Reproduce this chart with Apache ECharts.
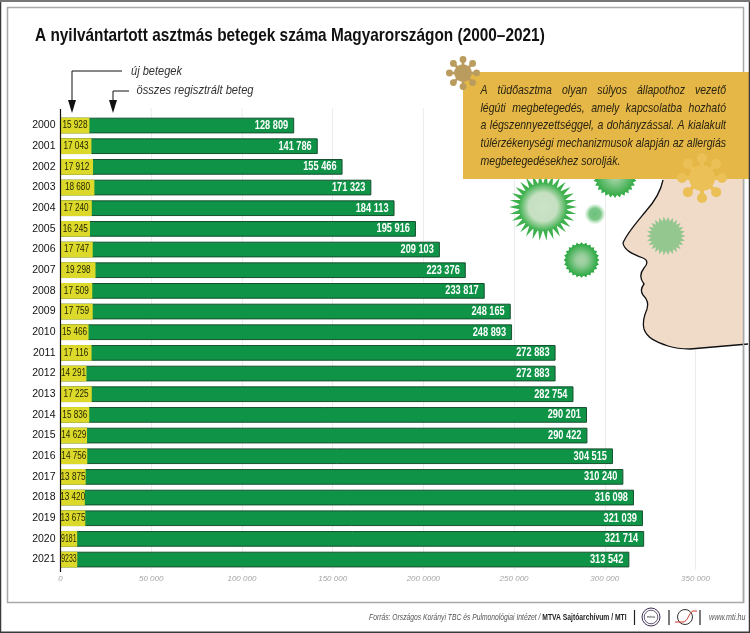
<!DOCTYPE html>
<html>
<head>
<meta charset="utf-8">
<title>Asztmás betegek</title>
<script src="https://cdn.jsdelivr.net/npm/echarts@6/dist/echarts.min.js"></script>
<style>
html,body{margin:0;padding:0;background:#fff;}
#main{width:750px;height:633px;}
</style>
</head>
<body>
<div id="main"></div>
<script>
var years=['2000','2001','2002','2003','2004','2005','2006','2007','2008','2009','2010','2011','2012','2013','2014','2015','2016','2017','2018','2019','2020','2021'];
var newPatients=[15928,17043,17912,18680,17240,16245,17747,19298,17509,17759,15466,17116,14291,17225,15836,14629,14756,13875,13420,13675,9181,9233];
var allPatients=[128809,141786,155466,171323,184113,195916,209103,223376,233817,248165,248893,272883,272883,282754,290201,290422,304515,310240,316098,321039,321714,313542];
var tickLabels=['0','50 000','100 000','150 000','200 0000','250 000','300 000','350 000'];
var calloutLines=['A tüdőasztma olyan súlyos állapothoz vezető','légúti megbetegedés, amely kapcsolatba hozható','a légszennyezettséggel, a dohányzással. A kialakult','túlérzékenységi mechanizmusok alapján az allergiás','megbetegedésekhez sorolják.'];

var sans='"Liberation Sans",Arial,sans-serif';
var green='#0f9347',greenEdge='#17502f',yellow='#dcd92a';

function fmt(v){//9181 -> no space, 15928 -> 15 928
	return v<10000?String(v):String(v).replace(/\B(?=(\d{3})+$)/g,' ');
}
// nincs keskeny betutipus, ezert vizszintesen osszenyomjuk a szoveget
function txt(x,y,s,font,fill,sx,z){
	return {type:'text',z:z||20,x:x,y:y,scaleX:sx||1,style:{text:s,font:font+' '+sans,fill:fill,textVerticalAlign:'middle'}};
}
function line(x1,y1,x2,y2,color,w,z){
	return {type:'line',z:z||20,shape:{x1:x1,y1:y1,x2:x2,y2:y2},style:{stroke:color,lineWidth:w}};
}
function arrow(x,y){//lefele mutato nyil
	return {type:'polygon',z:20,shape:{points:[[x-4,y],[x+4,y],[x,y+13]]},style:{fill:'#111'}};
}
function radial(stops){
	return {type:'radial',x:.5,y:.5,r:.5,colorStops:stops.map(function(s){return {offset:s[0],color:s[1]};})};
}
function spiky(cx,cy,r1,r2,n,fill){//tuskes virus
	var pts=[];
	for(var i=0;i<n*2;i++){
		var a=Math.PI*i/n,r=i%2?r2:r1;
		pts.push([cx+r*Math.cos(a),cy+r*Math.sin(a)]);
	}
	return {type:'polygon',z:10,shape:{points:pts},style:{fill:fill}};
}
function disc(cx,cy,r,fill,z){
	return {type:'circle',z:z||10,shape:{cx:cx,cy:cy,r:r},style:{fill:fill}};
}
function armVirus(cx,cy,r,color,z){//korona virus karokkal
	var list=[disc(cx,cy,r*.52,color,z)];
	for(var i=0;i<8;i++){
		var a=Math.PI*i/4-Math.PI/2;
		list.push(line(cx,cy,cx+r*.8*Math.cos(a),cy+r*.8*Math.sin(a),color,r*.16,z));
		list.push(disc(cx+r*.8*Math.cos(a),cy+r*.8*Math.sin(a),r*.2,color,z));
	}
	return list;
}
function calloutText(){//sorkizart szoveg, szavankent
	var ctx=document.createElement('canvas').getContext('2d'),font='italic 13px '+sans,out=[],sx=.81;
	ctx.font=font;
	calloutLines.forEach(function(l,i){
		var words=l.split(' '),x=480.5,y=90+i*17.9,gap=ctx.measureText(' ').width*sx;
		if(i<calloutLines.length-1){
			var sum=0;
			words.forEach(function(w){sum+=ctx.measureText(w).width*sx;});
			gap=(245.5-sum)/(words.length-1);
		}
		words.forEach(function(w){
			out.push({type:'text',z:32,x:x,y:y,scaleX:sx,style:{text:w,font:font,fill:'#2a2412',textVerticalAlign:'middle'}});
			x+=ctx.measureText(w).width*sx+gap;
		});
	});
	return out;
}

var faceEdge='M663 180 C661 190 655 201 646 211 C637 222 627 233 623 243 C624 250 632 254 643 258 C648 260 648 264 644 268 C640 273 640 279 644 284 C641 288 640 291 643 295 C647 299 649 303 647 309 C644 316 642 322 644 329 C647 338 656 342 668 346 C677 349 682 349 690 349 L748 344';
echarts.graphic.registerShape('faceFill',echarts.graphic.extendPath(faceEdge+' L743 344 L743 175 L663 175 Z'));
echarts.graphic.registerShape('faceEdge',echarts.graphic.extendPath(faceEdge));
echarts.graphic.registerShape('logoSwoosh',echarts.graphic.extendPath('M675 622 L683 622 C688 622 689 612 693 611 L697 611'));

var decor=[];
decor.push({type:'rect',z:-1,shape:{x:7.5,y:7.5,width:736,height:595},style:{fill:'#fff',stroke:'#a9a9a9',lineWidth:1.5}});
decor.push({type:'faceFill',z:9,style:{fill:'#f0dac8',stroke:null}});
decor.push({type:'faceEdge',z:9,style:{fill:null,stroke:'#111',lineWidth:1.3}});
decor.push(spiky(666,236,19.5,15,26,'#93c78f'));
decor.push(disc(595,214,10.5,radial([[0,'#6cc07a'],[.55,'#7cc788'],[1,'rgba(150,215,160,0)']])));
decor.push(spiky(543,207,34,23,30,'#3eb14e'));
decor.push(disc(543,207,24,radial([[0,'#cbe2c8'],[.6,'#c5dfc1'],[1,'#3eb14e']])));
decor.push(spiky(615,176,22,19,28,'#39ad4b'));
decor.push(disc(615,176,19,radial([[0,'#b7dab5'],[1,'#39ad4b']])));
decor.push(spiky(581.5,260,18,15.5,24,'#2faa45'));
decor.push(disc(581.5,260,16,radial([[0,'#a9d4a9'],[.35,'#96cd9a'],[1,'#2faa45']])));
decor.push({type:'rect',z:30,shape:{x:463,y:72,width:287,height:107},style:{fill:'#e5b746'}});
decor=decor.concat(armVirus(463,73,17,'#b99c5e',31));
decor=decor.concat(armVirus(702,178,25,'#ebc057',31));
decor=decor.concat(calloutText());
decor.push(line(743.5,179,743.5,603,'#a9a9a9',1.5,33));
decor.push({type:'rect',z:34,shape:{x:.5,y:.8,width:749,height:631.5},style:{fill:null,stroke:'#3a3a3a',lineWidth:1.5}});
decor.push(line(0,1,750,1,'#777',2,34));
// cim
decor.push(txt(35,36,'A nyilvántartott asztmás betegek száma Magyarországon (2000–2021)','bold 19px','#111',.81));
// nyilak
decor.push(txt(131,71.5,'új betegek','italic 13px','#333',.85));
decor.push(txt(136.5,90,'összes regisztrált beteg','italic 13px','#333',.857));
decor.push({type:'polyline',z:20,shape:{points:[[122,71],[72,71],[72,101]]},style:{stroke:'#111',lineWidth:1,fill:null}});
decor.push({type:'polyline',z:20,shape:{points:[[129,91],[113,91],[113,101]]},style:{stroke:'#111',lineWidth:1,fill:null}});
decor.push(arrow(72,100),arrow(113,100));
// tengely csonkok
decor.push(line(60.5,109,60.5,572,'#111',1.2,5));
// lablec
decor.push({type:'text',z:20,x:626.5,y:617,scaleX:.71,style:{
	text:'{a|Forrás: Országos Korányi TBC és Pulmonológiai Intézet / }{b|MTVA Sajtóarchívum / MTI}',
	textAlign:'right',textVerticalAlign:'middle',
	rich:{a:{font:'italic 9.5px '+sans,fill:'#555'},b:{font:'bold 9.5px '+sans,fill:'#222'}}
}});
decor.push(line(634.5,610,634.5,625,'#222',1.2),line(669,610,669,625,'#222',1.2),line(700,610,700,625,'#222',1.2));
decor.push({type:'circle',z:20,shape:{cx:651,cy:617,r:9},style:{fill:null,stroke:'#3d2d55',lineWidth:1}});
decor.push({type:'circle',z:20,shape:{cx:651,cy:617,r:6.8},style:{fill:null,stroke:'#3d2d55',lineWidth:.8}});
decor.push({type:'text',z:20,x:651,y:617,style:{text:'mtva',font:'4px '+sans,fill:'#333',textAlign:'center',textVerticalAlign:'middle'}});
decor.push({type:'circle',z:20,shape:{cx:685,cy:617,r:7.5},style:{fill:null,stroke:'#333',lineWidth:1}});
decor.push({type:'logoSwoosh',z:21,style:{fill:null,stroke:'#d0342c',lineWidth:1}});
decor.push(txt(709,617,'www.mti.hu','italic 9.5px','#555',.75));

// ertekcimkek: custom sorozat, mert a bar label nem nyomhato ossze
function totalLabel(params,api){
	var p=api.coord([api.value(0),api.value(1)]);
	return {type:'text',x:p[0]-6,y:p[1],scaleX:.71,z2:5,style:{text:fmt(api.value(0)),font:'bold 13px '+sans,fill:'#fff',textAlign:'right',textVerticalAlign:'middle'}};
}
function newLabel(params,api){
	var v=api.value(0),p=api.coord([v/2,api.value(1)]);
	return {type:'text',x:p[0],y:p[1],scaleX:v<10000?.66:.78,z2:5,style:{text:fmt(v),font:'10.5px '+sans,fill:'#1d2200',textAlign:'center',textVerticalAlign:'middle'}};
}
function pairs(values){
	return values.map(function(v,i){return [v,i];});
}

var myChart=echarts.init(document.getElementById('main'),null,{renderer:'canvas'});
var option={
	backgroundColor:'#fff',
	animation:false,
	grid:{left:60.5,top:115.2,width:635,height:454.7,containLabel:false},
	xAxis:{
		type:'value',min:0,max:350000,interval:50000,
		axisLine:{show:false},axisTick:{show:false},
		splitLine:{lineStyle:{color:'#ececec',width:1}},
		axisLabel:{
			margin:5,color:'#a5a5a5',fontStyle:'italic',fontSize:8,fontFamily:sans,
			formatter:function(v,i){return tickLabels[i];}
		}
	},
	yAxis:{
		type:'category',data:years,inverse:true,
		axisLine:{show:false},axisTick:{show:false},
		axisLabel:{margin:5,color:'#111',fontSize:10.5,fontFamily:sans}
	},
	series:[{
		name:'összes regisztrált beteg',type:'bar',data:allPatients,barWidth:15.7,barGap:'-100%',
		itemStyle:{color:green,borderColor:greenEdge,borderWidth:1}
	},{
		name:'új betegek',type:'bar',data:newPatients,barWidth:15.7,barGap:'-100%',
		itemStyle:{color:yellow}
	},{
		type:'custom',data:pairs(allPatients),encode:{x:0,y:1},renderItem:totalLabel,z:5,silent:true
	},{
		type:'custom',data:pairs(newPatients),encode:{x:0,y:1},renderItem:newLabel,z:5,silent:true
	}],
	graphic:{elements:decor}
};
myChart.setOption(option);
// racsvonalak felnyujtasa a grid fole
var stubs=[];
for(var v=50000;v<=200000;v+=50000){
	var px=myChart.convertToPixel({xAxisIndex:0},v);
	stubs.push(line(px,108,px,116,'#ececec',1,1));
}
myChart.setOption({graphic:{elements:decor.concat(stubs)}});
</script>
</body>
</html>
